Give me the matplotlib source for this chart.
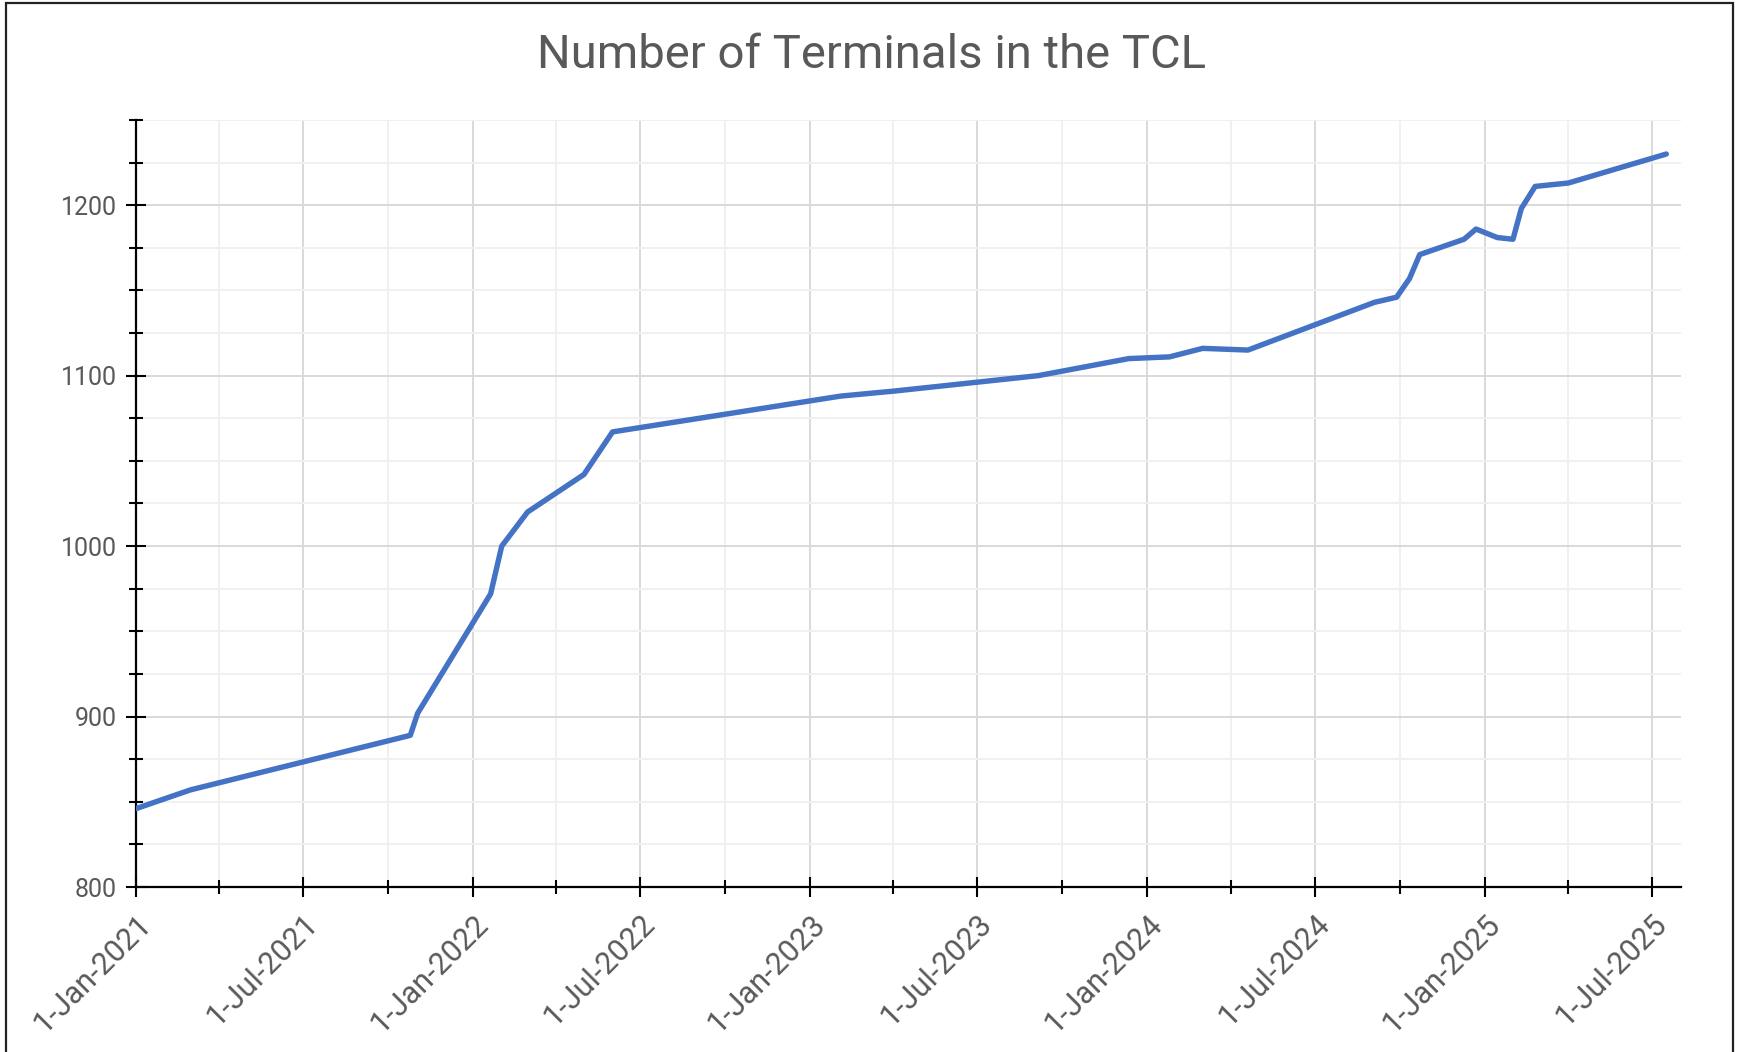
import matplotlib
matplotlib.use("Agg")
import matplotlib.pyplot as plt
import matplotlib.dates as mdates
import matplotlib.patches as patches
from matplotlib import font_manager
import pandas as pd
from matplotlib.ticker import MultipleLocator

# terminal counts
dates = ["2021-01-01", "2021-03-01", "2021-10-25", "2021-11-02", "2022-01-20",
         "2022-02-01", "2022-03-01", "2022-05-01", "2022-06-01", "2023-02-03",
         "2023-04-03", "2023-09-05", "2023-12-12", "2024-01-25", "2024-03-01",
         "2024-04-19", "2024-09-03", "2024-09-27", "2024-10-11", "2024-10-22",
         "2024-12-09", "2024-12-22", "2025-01-14", "2025-01-31", "2025-02-09",
         "2025-02-24", "2025-04-01", "2025-07-16"]
terminals = [846, 857, 889, 902, 972,
             1000, 1020, 1042, 1067, 1088,
             1091, 1100, 1110, 1111, 1116,
             1115, 1143, 1146, 1157, 1171,
             1180, 1186, 1181, 1180, 1198,
             1211, 1213, 1230]

dates = pd.to_datetime(dates)

# narrow font for the labels if we have one
names = {f.name for f in font_manager.fontManager.ttflist}
narrow = "Liberation Sans Narrow" if "Liberation Sans Narrow" in names else "Roboto"

plt.rcParams['font.family'] = ['Roboto', 'DejaVu Sans']
grey = "#595959"

fig = plt.figure(figsize=(17.37, 10.52), dpi=100)
ax = fig.add_axes([0.0783, 0.1568, 0.8895, 0.7292])

ax.plot(dates, terminals, color="#4472C4", linewidth=3.9, solid_capstyle="round", zorder=3)

ax.set_ylim(800, 1250)
ax.set_xlim(pd.Timestamp("2021-01-01"), pd.Timestamp("2025-08-01"))

ax.yaxis.set_major_locator(MultipleLocator(100))
ax.yaxis.set_minor_locator(MultipleLocator(25))
ax.xaxis.set_major_locator(mdates.MonthLocator(bymonth=[1, 7]))
ax.xaxis.set_minor_locator(mdates.MonthLocator(bymonth=[1, 4, 7, 10]))
ax.xaxis.set_major_formatter(mdates.DateFormatter("%-d-%b-%Y"))

ax.grid(which="major", color="#D9D9D9", linewidth=1.4, zorder=0)
ax.grid(which="minor", color="#F0F0F0", linewidth=1.4, zorder=0)
ax.set_axisbelow(True)

for s in ["top", "right"]:
    ax.spines[s].set_visible(False)
for s in ["left", "bottom"]:
    ax.spines[s].set_linewidth(1.6)
    ax.spines[s].set_color("black")

ax.tick_params(which="major", direction="inout", length=14, width=1.5, color="black",
               labelcolor=grey)
ax.tick_params(which="minor", direction="inout", length=10.5, width=1.5, color="black")
ax.tick_params(axis="y", which="major", pad=7)
ax.tick_params(axis="x", which="major", pad=9)

for lab in ax.get_yticklabels():
    lab.set_family([narrow, "DejaVu Sans"])
    lab.set_fontsize(18)
for lab in ax.get_xticklabels():
    lab.set_family([narrow, "DejaVu Sans"])
    lab.set_fontsize(22)
    lab.set_rotation(45)
    lab.set_ha("right")
    lab.set_va("top")
    lab.set_rotation_mode("anchor")

fig.text(0.502, 0.948, "Number of Terminals in the TCL", ha="center", va="center",
         fontsize=34, color=grey, family=[narrow, "DejaVu Sans"])

# outer chart border
fig.patches.append(patches.Rectangle((6 / 1737, -0.05), 1727 / 1737, 1.05 - 3 / 1052,
                                     transform=fig.transFigure, fill=False,
                                     edgecolor="#222222", linewidth=1.6))

fig.savefig("out.png", dpi=100)
